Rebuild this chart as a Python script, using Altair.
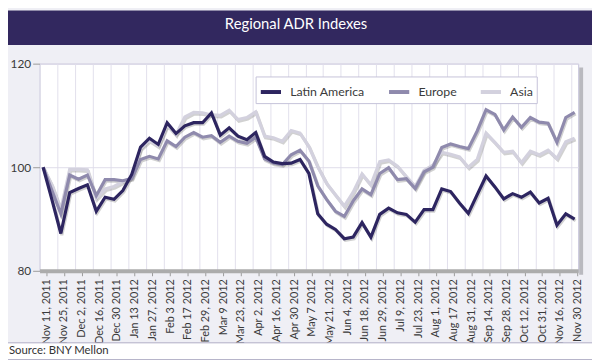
import altair as alt
import pandas as pd

labels = ["Nov 11, 2011", "Nov 25, 2011", "Dec 2, 2011", "Dec 16, 2011", "Dec 30 2011",
          "Jan 13 2012", "Jan 27, 2012", "Feb 3 2012", "Feb 17 2012", "Feb 29, 2012",
          "Mar 9 2012", "Mar 23, 2012", "Apr 2, 2012", "Apr 16, 2012", "Apr 30 2012",
          "May 7 2012", "May 21, 2012", "Jun 4, 2012", "Jun 18, 2012", "Jun 29, 2012",
          "Jul 9, 2012", "Jul 23, 2012", "Aug 1, 2012", "Aug 17 2012", "Aug 31, 2012",
          "Sep 14, 2012", "Sep 28, 2012", "Oct 12, 2012", "Oct 31, 2012", "Nov 16, 2012",
          "Nov 30 2012"]

latin_america = [100, 93.7, 87.2, 95.1, 95.9, 96.6, 91.5, 94.2, 93.8, 95.5,
                 98.6, 103.9, 105.6, 104.4, 108.6, 106.5, 108.0, 108.6, 108.6, 110.5,
                 106.2, 107.6, 106.0, 105.3, 106.7, 102.1, 101.0, 100.7, 100.8, 101.5,
                 98.8, 91.0, 89.0, 88.0, 86.2, 86.5, 89.3, 86.5, 90.9, 92.1,
                 91.2, 90.9, 89.4, 91.8, 91.8, 95.8, 95.3, 93.1, 91.1, 94.7,
                 98.3, 96.2, 93.9, 94.9, 94.2, 95.2, 93.1, 94.0, 88.8, 91.0, 90.0]

europe = [100, 95.5, 91.0, 98.5, 97.7, 98.5, 94.5, 97.6, 97.6, 97.4,
          97.8, 101.5, 102.1, 101.6, 105.1, 104.0, 105.8, 106.7, 105.8, 106.1,
          104.8, 106.0, 105.0, 104.6, 105.8, 101.6, 100.8, 100.5, 102.4, 103.3,
          101.2, 96.4, 93.8, 91.5, 90.5, 93.5, 95.8, 94.7, 98.8, 99.9,
          97.6, 97.8, 95.9, 99.1, 100.0, 103.8, 104.5, 104.0, 103.6, 107.0,
          111.1, 110.2, 107.2, 109.7, 107.7, 109.6, 108.7, 108.5, 104.8, 109.6, 110.6]

asia = [100, 96.5, 91.8, 99.6, 99.6, 99.5, 94.0, 95.8, 96.3, 97.2,
        98.0, 103.6, 105.2, 104.1, 108.2, 106.3, 109.7, 110.6, 110.5, 110.1,
        110.0, 111.0, 109.2, 109.6, 110.7, 106.0, 105.7, 105.0, 107.1, 106.6,
        104.0, 100.1, 96.9, 94.7, 92.5, 95.2, 98.7, 96.6, 101.1, 101.4,
        100.2, 98.2, 96.3, 99.4, 100.4, 102.9, 102.5, 102.0, 100.0, 101.5,
        106.6, 104.8, 102.9, 103.1, 100.9, 103.1, 102.4, 103.3, 101.7, 104.9, 105.6]

regions = ["Latin America", "Europe", "Asia"]
colors = ["#2d2560", "#8f8aad", "#d3d1de"]

rows = []
for name, vals in zip(regions, [latin_america, europe, asia]):
    for i, v in enumerate(vals):
        rows.append({"idx": i, "value": v, "region": name})
df = pd.DataFrame(rows)

FONT = "Lato"
label_js = "[" + ",".join("'%s'" % s for s in labels) + "]"
tick_vals = list(range(0, 2 * len(labels) - 1, 2))

xscale = alt.Scale(domain=[-0.4, 60.4], nice=False, zero=False)
yscale = alt.Scale(domain=[80, 120], nice=False, zero=False)

y_enc = alt.Y("value:Q", scale=yscale, title=None,
              axis=alt.Axis(values=[80, 100, 120], grid=True, gridColor="#dedcea",
                            tickSize=7, tickColor="#9a9a9a", domain=False,
                            labelFont=FONT, labelFontSize=12, labelColor="#3a3a3a",
                            labelPadding=2))

color_enc = alt.Color("region:N", scale=alt.Scale(domain=regions, range=colors),
                      legend=alt.Legend(orient="none", legendX=219, legendY=13,
                                        direction="horizontal", fillColor="white",
                                        strokeColor="#c5c2d8", padding=3,
                                        symbolType="stroke", symbolStrokeWidth=4,
                                        symbolSize=420, labelFont=FONT,
                                        labelFontSize=12.5, labelColor="#3a3a3a",
                                        columnPadding=16, labelOffset=7, title=None))

x_main = alt.X("idx:Q", scale=xscale, title=None,
               axis=alt.Axis(values=tick_vals, labelExpr=label_js + "[datum.value/2]",
                             labelAngle=-90, grid=False, tickOffset=3, tickSize=5,
                             tickColor="#9a9a9a", domainColor="#acacac", domainWidth=4,
                             labelFont=FONT, labelFontSize=11, labelColor="#3a3a3a",
                             labelPadding=3, orient="bottom"))
x_grid = alt.X("idx:Q", scale=xscale, title=None,
               axis=alt.Axis(values=tick_vals, orient="top", grid=True,
                             gridColor="#e2e0ec", labels=False, ticks=False,
                             domain=False, tickOffset=-3.5))
x_none = alt.X("idx:Q", scale=xscale, title=None, axis=None)

base = alt.Chart(df)

shadow = base.mark_line(color="#666666", opacity=0.3, strokeWidth=3.2,
                        xOffset=1, yOffset=1.6).encode(x=x_grid, y=y_enc, detail="region:N")

def series(name, xe):
    return base.transform_filter(alt.datum.region == name).mark_line(
        strokeWidth=3.2, strokeJoin="miter").encode(x=xe, y=y_enc, color=color_enc)

asia_l = series("Asia", x_none)
europe_l = series("Europe", x_none)
la_l = series("Latin America", x_main)

one = alt.Data(values=[{"k": 1}])
title_bar = alt.Chart(one).mark_rect(color="#32285f").encode(
    x=alt.value(-32), x2=alt.value(560), y=alt.value(-54), y2=alt.value(-19))
title_txt = alt.Chart(one).mark_text(color="white", font=FONT, fontSize=15,
                                     align="center", baseline="middle").encode(
    x=alt.value(260), y=alt.value(-40), text=alt.value("Regional ADR Indexes"))
right_shadow = alt.Chart(one).mark_rect(color="#b9b9bf").encode(
    x=alt.value(547), x2=alt.value(551), y=alt.value(4), y2=alt.value(214))
foot_bg = alt.Chart(one).mark_rect(color="white", stroke="#b0adc4", strokeWidth=1).encode(
    x=alt.value(-33), x2=alt.value(561), y=alt.value(283), y2=alt.value(300))
src_txt = alt.Chart(one).mark_text(color="#333333", font=FONT, fontSize=11.5,
                                   align="left", baseline="middle").encode(
    x=alt.value(-31), y=alt.value(291), text=alt.value("Source: BNY Mellon"))

chart = alt.layer(
    shadow, asia_l, europe_l, la_l,
    title_bar, title_txt, right_shadow, foot_bg, src_txt
).resolve_axis(x="independent").properties(
    width=546, height=210,
    autosize=alt.AutoSizeParams(type="none"),
    padding={"left": 32, "top": 54, "right": 14, "bottom": 88},
    background="#efeff5"
).configure_view(stroke="#c5c2d8", fill="white")

chart.save("out.html", embed_options={"renderer": "svg", "actions": False})
